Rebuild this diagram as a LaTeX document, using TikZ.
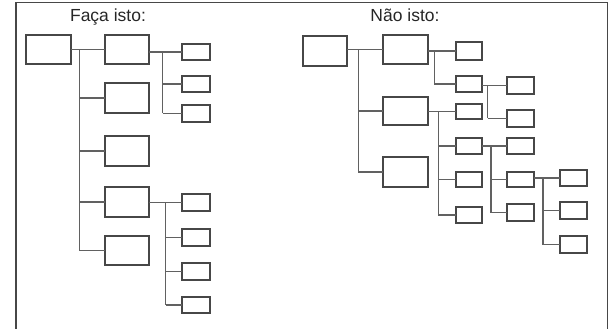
\documentclass[tikz,border=0pt]{standalone}
\usepackage{fontspec}
\setmainfont{Liberation Sans}
\begin{document}
\begin{tikzpicture}[x=1pt,y=-1pt,
  box/.style={draw=black!72,line width=1.6pt,inner sep=0pt,outer sep=0pt,fill=white},
  conn/.style={draw=black!62,line width=1.4pt},
  frame/.style={draw=black!72,line width=1.4pt},
  title/.style={font=\fontsize{17.5}{20}\selectfont,anchor=base,inner sep=0pt,text=black!85}]
\useasboundingbox (0,0) rectangle (611,329);
\newcommand\bx[5]{\node[box,minimum width={(#4-#2)*1pt},minimum height={(#5-#3)*1pt}] (#1) at ({(#2+#4)/2},{(#3+#5)/2}) {};}
% frame
\draw[frame] (16,335) -- (16,2.5) -- (607.5,2.5) -- (607.5,335);
\node[title] (t1) at (108,21.5) {Faça isto:};
\node[title] (t2) at (405,21.5) {Não isto:};
% ---------- left tree ----------
\bx{L0}{26}{35}{71}{64}
\bx{L1}{105}{35}{149}{64}
\bx{L2}{105}{83}{149}{113}
\bx{L3}{105}{136}{149}{166}
\bx{L4}{105}{187}{149}{217}
\bx{L5}{105}{236}{149}{265}
\bx{L1a}{182}{44}{210}{60}
\bx{L1b}{182}{76}{210}{92}
\bx{L1c}{182}{105}{210}{122}
\bx{L4a}{182}{194}{210}{211}
\bx{L4b}{182}{229}{210}{246}
\bx{L4c}{182}{263}{210}{280}
\bx{L4d}{182}{297}{210}{313}
% ---------- right tree ----------
\bx{R0}{303}{36}{347}{66}
\bx{RA}{383}{35}{428}{64}
\bx{RB}{383}{97}{428}{125}
\bx{RC}{383}{157}{428}{187}
\bx{RA1}{456}{42}{482}{60}
\bx{RA2}{456}{76}{482}{92}
\bx{RA2a}{507}{77}{534}{94}
\bx{RA2b}{507}{110}{534}{127}
\bx{RB1}{456}{104}{482}{119}
\bx{RB2}{456}{138}{482}{154}
\bx{RB3}{456}{172}{482}{187}
\bx{RB4}{456}{207}{482}{223}
\bx{RB2a}{507}{138}{534}{154}
\bx{RB2b}{507}{172}{534}{187}
\bx{RB2c}{507}{204}{534}{221}
\bx{RX1}{560}{170}{587}{186}
\bx{RX2}{560}{202}{587}{219}
\bx{RX3}{560}{236}{587}{253}
% ---------- connectors ----------
% #1 parent, #2 vertical x, #3 first child, #4 last child, #5 other children
\newcommand\grp[5]{%
  \coordinate (v#1) at (#2,0);
  \draw[conn] (#1.east |- #3.west) -- (#3.west);
  \draw[conn] (v#1 |- #3.west) -- (v#1 |- #4.west);
  \foreach \c in {#5}{\draw[conn] (v#1 |- \c.west) -- (\c.west);}
}
\grp{L0}{79.3}{L1}{L5}{L2,L3,L4,L5}
\grp{L1}{162.7}{L1a}{L1c}{L1b,L1c}
\grp{L4}{165.7}{L4a}{L4d}{L4b,L4c,L4d}
\grp{R0}{358.3}{RA}{RC}{RB,RC}
\grp{RA}{434.3}{RA1}{RA2}{RA2}
\grp{RA2}{487.7}{RA2a}{RA2b}{RA2b}
\grp{RB}{438.3}{RB1}{RB4}{RB2,RB3,RB4}
\grp{RB2}{491}{RB2a}{RB2c}{RB2b,RB2c}
\grp{RB2b}{543}{RX1}{RX3}{RX2,RX3}
\end{tikzpicture}
\end{document}
